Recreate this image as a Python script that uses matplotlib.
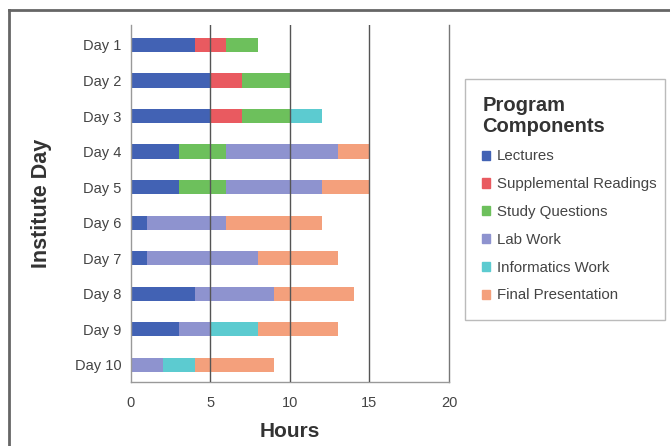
import matplotlib.pyplot as plt
from matplotlib.lines import Line2D
import numpy as np

plt.rcParams['font.family'] = ['Liberation Sans', 'DejaVu Sans']

days = ['Day 1', 'Day 2', 'Day 3', 'Day 4', 'Day 5',
        'Day 6', 'Day 7', 'Day 8', 'Day 9', 'Day 10']
components = ['Lectures', 'Supplemental Readings', 'Study Questions',
              'Lab Work', 'Informatics Work', 'Final Presentation']

# hours per component for each day
lectures     = [4, 5, 5, 3, 3, 1, 1, 4, 3, 0]
supplemental = [2, 2, 2, 0, 0, 0, 0, 0, 0, 0]
study        = [2, 3, 3, 3, 3, 0, 0, 0, 0, 0]
lab_work     = [0, 0, 0, 7, 6, 5, 7, 5, 2, 2]
informatics  = [0, 0, 2, 0, 0, 0, 0, 0, 3, 2]
final_pres   = [0, 0, 0, 2, 3, 6, 5, 5, 5, 5]

colors = ['#4262b4', '#e95a60', '#6dc05c', '#8e93cf', '#5ccbd0', '#f4a07c']

fig = plt.figure(figsize=(6.7, 4.46), dpi=100)
ax = fig.add_axes([0.1955, 0.1435, 0.4746, 0.8005])

y = np.arange(len(days))
left = np.zeros(len(days))
for name, vals, col in zip(components,
                           [lectures, supplemental, study, lab_work, informatics, final_pres],
                           colors):
    ax.barh(y, vals, left=left, height=0.4, color=col, label=name, zorder=2)
    left += np.array(vals)

ax.set_xlim(0, 20)
ax.set_ylim(9.48, -0.56)
ax.set_xticks([0, 5, 10, 15, 20])
ax.set_yticks(y)
ax.set_yticklabels(days)
ax.tick_params(axis='both', length=0, labelsize=10.5, colors='#444444')
ax.tick_params(axis='x', pad=10)
ax.tick_params(axis='y', pad=7)

# dark vertical grid drawn over the bars
for xv in [5, 10, 15]:
    ax.axvline(xv, color='#555555', lw=1, zorder=3)
ax.spines['top'].set_visible(False)
for s in ['left', 'bottom', 'right']:
    ax.spines[s].set_color('#999999')
    ax.spines[s].set_linewidth(1)
ax.spines['right'].set_color('#777777')

ax.set_xlabel('Hours', fontsize=15, fontweight='bold', color='#333333', labelpad=9)
ax.set_ylabel('Institute Day', fontsize=15.5, fontweight='bold', color='#333333', labelpad=16)

handles = [plt.Rectangle((0, 0), 1, 1, color=c) for c in colors]
leg = fig.legend(handles, components, loc='upper left',
                 bbox_to_anchor=(0.694, 0.289, 0.299, 0.534), mode='expand',
                 title='Program\nComponents', alignment='left',
                 title_fontproperties={'size': 14.5, 'weight': 'bold'},
                 fontsize=10.8, frameon=True, fancybox=False, edgecolor='#aaaaaa',
                 handlelength=0.55, handleheight=0.55, handletextpad=0.45,
                 labelspacing=0.92, borderpad=1.15, borderaxespad=0)
leg.get_frame().set_linewidth(1)
leg.get_title().set_color('#333333')
leg.get_title().set_linespacing(1.1)
for t in leg.get_texts():
    t.set_color('#444444')

# outer frame around the graphic
fig.add_artist(Line2D([9 / 670, 1], [1 - 10 / 446, 1 - 10 / 446],
                      transform=fig.transFigure, color='#666666', lw=2))
fig.add_artist(Line2D([9 / 670, 9 / 670], [0, 1 - 10 / 446],
                      transform=fig.transFigure, color='#666666', lw=2))

fig.savefig('out.png', dpi=100)
